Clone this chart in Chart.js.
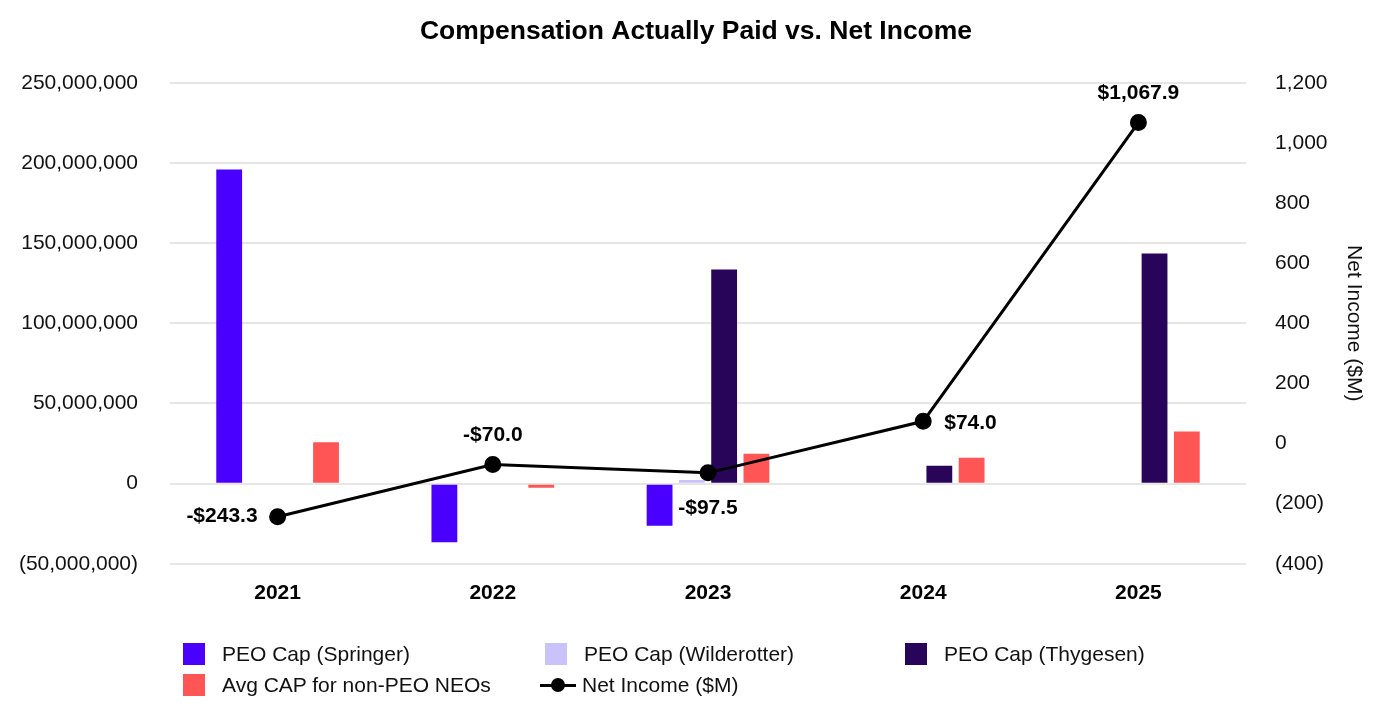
<!DOCTYPE html>
<html>
<head>
<meta charset="utf-8">
<script src="https://cdn.jsdelivr.net/npm/chart.js@4"></script>
<style>
  html,body{margin:0;padding:0;background:#fff;}
  #wrap{position:relative;width:1392px;height:728px;}
  #legend{position:absolute;left:183px;top:642px;width:1150px;font-family:"Liberation Sans",Arial,sans-serif;font-size:21px;color:#111;}
  .item{position:absolute;display:flex;align-items:center;height:24px;white-space:nowrap;}
  .box{width:22px;height:22px;margin-right:17px;}
  .lineicon{position:relative;width:36px;height:22px;margin-right:6px;}
  .lineicon .l{position:absolute;left:0;top:9.5px;width:36px;height:3px;background:#000;}
  .lineicon .d{position:absolute;left:11px;top:4px;width:14px;height:14px;border-radius:50%;background:#000;}
</style>
</head>
<body>
<div id="wrap">
<canvas id="c" width="1392" height="728"></canvas>
<div id="legend"></div>
</div>
<script>
const categories = ['2021','2022','2023','2024','2025'];
const springer    = [196.0e6, -36.5e6, -26.3e6, null, null];
const wilderotter = [null, null, 2.3e6, null, null];
const thygesen    = [null, null, 133.6e6, 11.1e6, 143.5e6];
const avgNonPeo   = [25.8e6, -2.5e6, 18.6e6, 16.1e6, 32.5e6];
const netIncome   = [-243.3, -70.0, -97.5, 74.0, 1067.9];
const leftTicks   = {min: -50e6, max: 250e6, step: 50e6};
const rightTicks  = {min: -400, max: 1200, step: 200};
const labelPlacement = ['left','top','bottom','right','top'];

const FONT = '"Liberation Sans", Arial, sans-serif';
const colors = {springer:'#4a00ff', wilderotter:'#c9c2fb', thygesen:'#29055a', avg:'#ff5555', line:'#000000'};

function fmtParen(v){
  const s = Math.abs(v).toLocaleString('en-US');
  return v < 0 ? '(' + s + ')' : s;
}
function fmtMoney(v){
  const s = '$' + Math.abs(v).toLocaleString('en-US',{minimumFractionDigits:1,maximumFractionDigits:1});
  return v < 0 ? '-' + s : s;
}

const lineLabels = {
  id:'lineLabels',
  afterDatasetsDraw(chart){
    const ctx = chart.ctx;
    const idx = chart.data.datasets.findIndex(d => d.type === 'line');
    const meta = chart.getDatasetMeta(idx);
    ctx.save();
    ctx.font = 'bold 21px ' + FONT;
    ctx.fillStyle = '#000';
    meta.data.forEach((pt, i) => {
      const v = chart.data.datasets[idx].data[i];
      const txt = fmtMoney(v);
      let x = pt.x, y = pt.y;
      const pos = labelPlacement[i];
      if (pos === 'left'){ ctx.textAlign='right'; ctx.textBaseline='middle'; x -= 20; }
      else if (pos === 'right'){ ctx.textAlign='left'; ctx.textBaseline='middle'; x += 21; y += 2; }
      else if (pos === 'top'){ ctx.textAlign='center'; ctx.textBaseline='middle'; y -= 29; }
      else { ctx.textAlign='center'; ctx.textBaseline='middle'; y += 35; }
      ctx.fillText(txt, x, y);
    });
    ctx.restore();
  }
};

const barCommon = {type:'bar', yAxisID:'y', order:1, categoryPercentage:0.6, barPercentage:0.8};
const chart = new Chart(document.getElementById('c'), {
  data:{
    labels: categories,
    datasets:[
      {...barCommon, label:'PEO Cap (Springer)', data:springer, backgroundColor:colors.springer},
      {...barCommon, label:'PEO Cap (Wilderotter)', data:wilderotter, backgroundColor:colors.wilderotter},
      {...barCommon, label:'PEO Cap (Thygesen)', data:thygesen, backgroundColor:colors.thygesen},
      {...barCommon, label:'Avg CAP for non-PEO NEOs', data:avgNonPeo, backgroundColor:colors.avg},
      {type:'line', label:'Net Income ($M)', data:netIncome, yAxisID:'y1', order:0,
       borderColor:colors.line, backgroundColor:colors.line, borderWidth:3,
       pointRadius:7, pointHoverRadius:7, pointBackgroundColor:colors.line, tension:0}
    ]
  },
  options:{
    responsive:false,
    animation:false,
    layout:{padding:{left:0,right:0,top:0,bottom:113}},
    plugins:{
      legend:{display:false},
      tooltip:{enabled:false},
      title:{display:true, text:'Compensation Actually Paid vs. Net Income', color:'#000',
             font:{family:FONT, size:26.5, weight:'bold'}, padding:{top:16,bottom:35}}
    },
    scales:{
      x:{
        grid:{display:false}, border:{display:false},
        ticks:{color:'#000', font:{family:FONT, size:21, weight:'bold'}, padding:9}
      },
      y:{
        position:'left', min:leftTicks.min, max:leftTicks.max,
        grid:{color:'#e6e6e6', lineWidth:2, drawTicks:false}, border:{display:false},
        ticks:{stepSize:leftTicks.step, color:'#111', font:{family:FONT, size:21}, padding:32,
               callback:v => fmtParen(v)},
        afterFit(s){ s.width = 170; }
      },
      y1:{
        position:'right', min:rightTicks.min, max:rightTicks.max,
        grid:{display:false, drawTicks:false}, border:{display:false},
        ticks:{stepSize:rightTicks.step, color:'#111', font:{family:FONT, size:21}, padding:29,
               callback:v => fmtParen(v)},
        title:{display:true, text:'Net Income ($M)', color:'#111', font:{family:FONT, size:21}, padding:{top:26,bottom:0}},
        afterFit(s){ s.width = 146; }
      }
    }
  },
  plugins:[lineLabels]
});

// HTML legend built from the datasets
const legend = document.getElementById('legend');
const colX = [0, 362, 722];
chart.data.datasets.forEach((d, i) => {
  const it = document.createElement('div');
  it.className = 'item';
  it.style.left = colX[i % 3] + 'px';
  it.style.top = (Math.floor(i / 3) * 31) + 'px';
  if (d.type === 'line'){
    it.style.left = (colX[i % 3] - 5) + 'px';
    it.innerHTML = '<span class="lineicon"><span class="l"></span><span class="d"></span></span>';
  } else {
    it.innerHTML = '<span class="box" style="background:' + d.backgroundColor + '"></span>';
  }
  const t = document.createElement('span');
  t.textContent = d.label;
  it.appendChild(t);
  legend.appendChild(it);
});
</script>
</body>
</html>
